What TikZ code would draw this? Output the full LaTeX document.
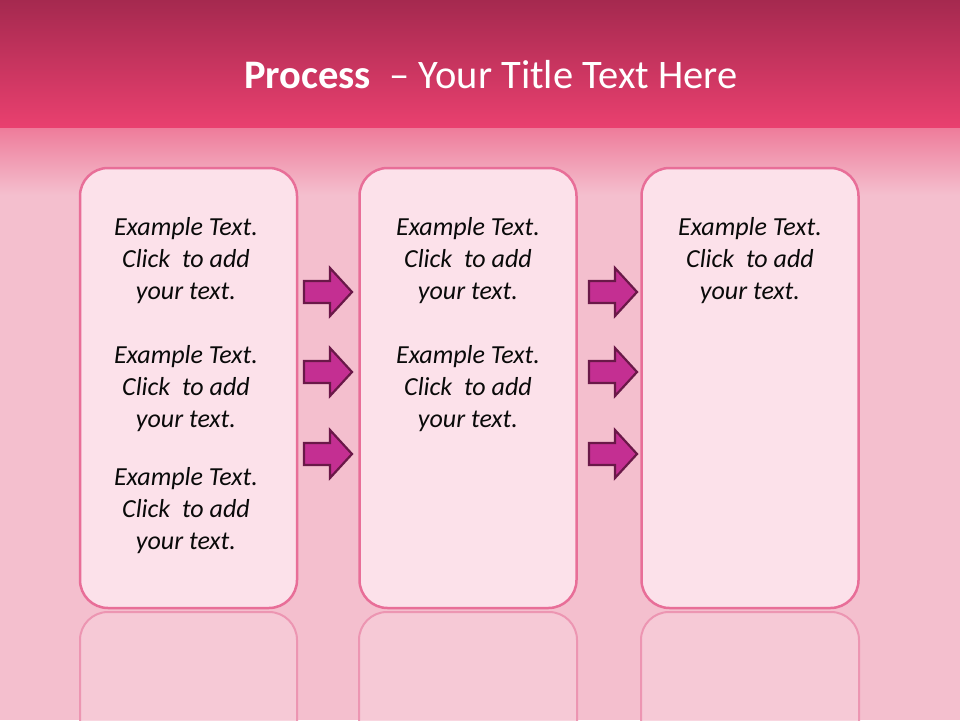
\documentclass[tikz,border=0pt]{standalone}
\usepackage{fontspec}
\setmainfont{Carlito}
\usetikzlibrary{fadings}
\definecolor{hdtop}{HTML}{A5294F}
\definecolor{hdbot}{HTML}{E9406F}
\definecolor{fadetop}{HTML}{EE7A99}
\definecolor{bgpink}{HTML}{F4BFCE}
\definecolor{boxfill}{HTML}{FCE1EA}
\definecolor{boxedge}{HTML}{E86E98}
\definecolor{refledge}{HTML}{EC91AF}
\definecolor{reflfill}{HTML}{F7CCD8}
\definecolor{arrowfill}{HTML}{C42F92}
\definecolor{arrowedge}{HTML}{6A1848}
\definecolor{txt}{HTML}{0A0A0A}
\tikzset{
  stagebox/.style={rounded corners=28pt, fill=boxfill, draw=boxedge, line width=2.5pt,
    minimum width=217pt, minimum height=440pt, inner sep=0pt},
  reflbox/.style={fill=reflfill, draw=refledge, line width=2pt, fill opacity=0.8, draw opacity=0.9},
  bodytext/.style={font=\fontsize{26}{32}\selectfont\itshape, text=txt, align=center, inner sep=0pt},
  parrow/.pic={\draw[fill=arrowfill, draw=arrowedge, line width=2.2pt, line join=miter]
    (-23,-11) -- (3,-11) -- (3,-24) -- (25,0) -- (3,24) -- (3,11) -- (-23,11) -- cycle;}
}
\begin{document}
\begin{tikzpicture}[x=1pt,y=-1pt]
\useasboundingbox (0,0) rectangle (960,720);
% background
\fill[bgpink] (0,0) rectangle (960,720);
\shade[top color=fadetop, bottom color=bgpink] (0,126) rectangle (960,195);
\shade[top color=hdtop, bottom color=hdbot] (0,0) rectangle (960,127);
% title
\node[text=white, font=\fontsize{40.5}{48}\selectfont] (title) at (491,75)
  {\textbf{Process}\ \ – Your Title Text Here};
% reflections
\foreach \xa/\xb in {80/297, 359/577, 641/859}{
  \draw[reflbox] (\xa,740) -- (\xa,640)
    arc[start angle=180, end angle=270, radius=28] -- (\xb-28,612)
    arc[start angle=270, end angle=360, radius=28] -- (\xb,740);
}
% boxes
\node[stagebox] (box1) at (188.5,388) {};
\node[stagebox] (box2) at (468,388) {};
\node[stagebox] (box3) at (750,388) {};
% texts
\node[bodytext] (t11) at (186,261) {Example Text.\\Click\ \ to add\\your text.};
\node[bodytext] (t12) at (186,389) {Example Text.\\Click\ \ to add\\your text.};
\node[bodytext] (t13) at (186,511) {Example Text.\\Click\ \ to add\\your text.};
\node[bodytext] (t21) at (468,261) {Example Text.\\Click\ \ to add\\your text.};
\node[bodytext] (t22) at (468,389) {Example Text.\\Click\ \ to add\\your text.};
\node[bodytext] (t31) at (750,261) {Example Text.\\Click\ \ to add\\your text.};
% arrows
\pic at (327,292) {parrow};
\pic at (327,372) {parrow};
\pic at (327,454) {parrow};
\pic at (612,292) {parrow};
\pic at (612,372) {parrow};
\pic at (612,454) {parrow};
\end{tikzpicture}
\end{document}
